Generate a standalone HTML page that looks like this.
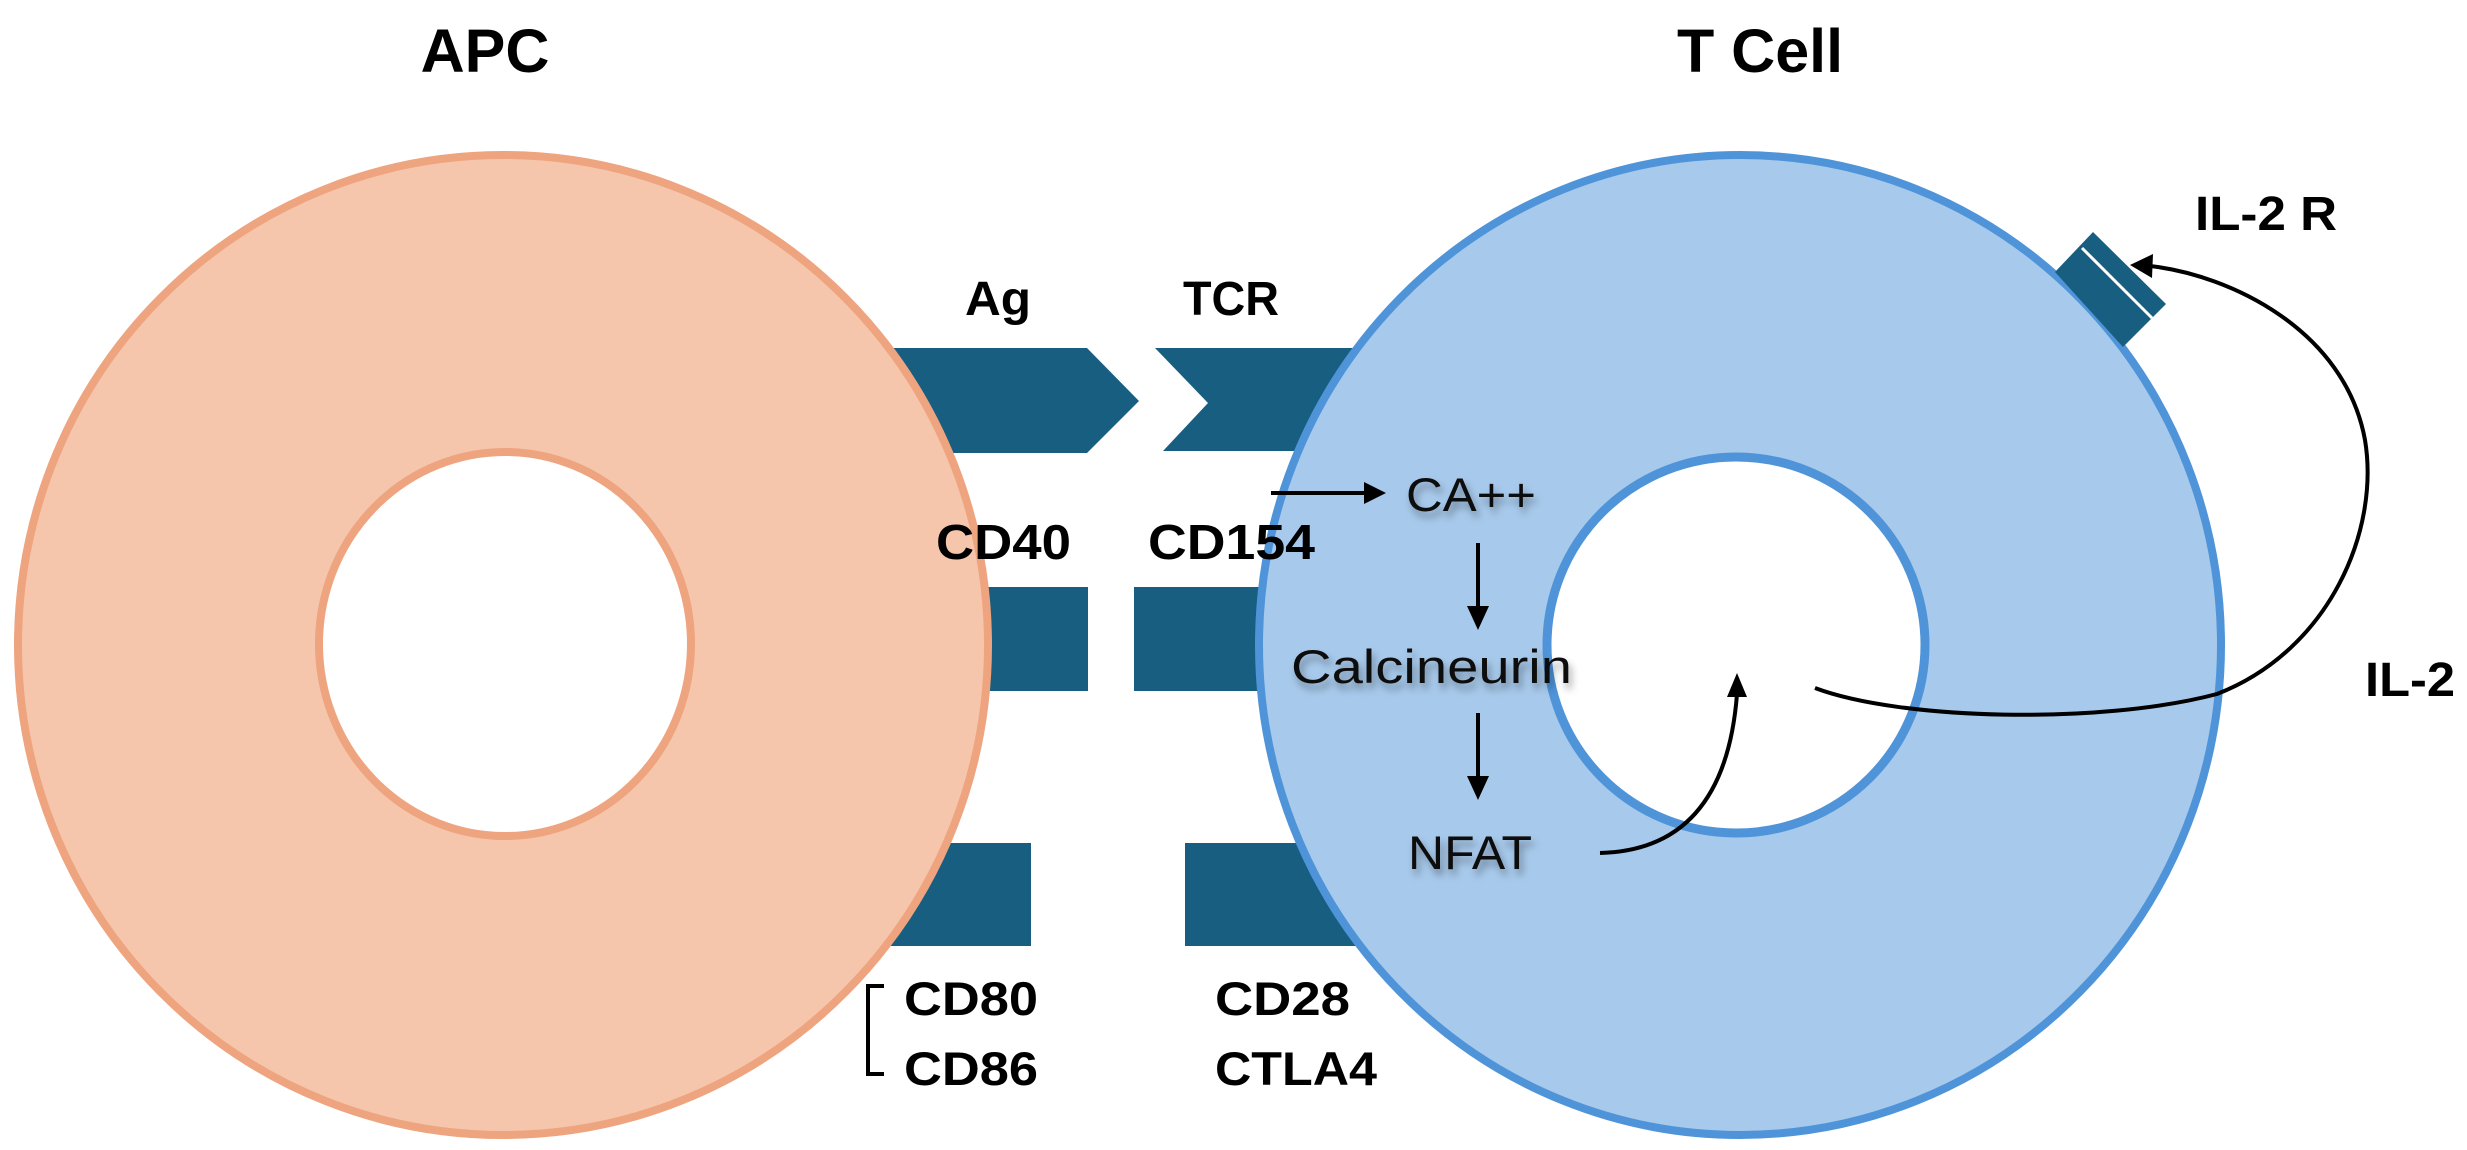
<!DOCTYPE html>
<html><head><meta charset="utf-8"><style>
html,body{margin:0;padding:0;background:#fff}
svg{display:block}
text{font-family:"Liberation Sans",Arial,sans-serif}
.b{font-weight:bold;fill:#000}
.r{fill:#111}
</style></head><body>
<svg width="2467" height="1150" viewBox="0 0 2467 1150" xmlns="http://www.w3.org/2000/svg">
<defs>
<marker id="ah" markerWidth="10" markerHeight="10" refX="8" refY="5" orient="auto" markerUnits="userSpaceOnUse" viewBox="0 0 10 10">
</marker>
<filter id="sh" x="-10%" y="-30%" width="130%" height="180%">
<feDropShadow dx="3" dy="6" stdDeviation="4" flood-color="#000" flood-opacity="0.35"/>
</filter>
</defs>
<rect width="2467" height="1150" fill="#fff"/>
<!-- bars (behind cells) -->
<g fill="#175e80">
<polygon points="850,348 1087,348 1139,401 1087,453 850,453"/>
<polygon points="1155,348 1420,348 1420,451 1163,451 1208,403"/>
<rect x="940" y="587" width="148" height="104"/>
<rect x="1134" y="587" width="200" height="104"/>
<rect x="840" y="843" width="191" height="103"/>
<rect x="1185" y="843" width="230" height="103"/>
</g>
<!-- APC -->
<ellipse cx="503" cy="645" rx="485" ry="490" fill="#f5c6ab" stroke="#eea47f" stroke-width="8"/>
<ellipse cx="505" cy="644" rx="186" ry="192" fill="#fff" stroke="#eea47f" stroke-width="8"/>
<!-- T cell -->
<ellipse cx="1740" cy="645" rx="481" ry="490" fill="#a7c9eb" stroke="#4f94d9" stroke-width="8"/>
<ellipse cx="1736" cy="645" rx="189" ry="188" fill="#fff" stroke="#4f94d9" stroke-width="9"/>
<!-- receptor -->
<polygon points="2055,272 2093,232 2166,304 2123,347" fill="#175e80"/>
<line x1="2082" y1="248" x2="2152" y2="318" stroke="#fff" stroke-width="3"/>
<!-- titles -->
<text class="b" x="485" y="72" font-size="61" text-anchor="middle">APC</text>
<text class="b" x="1760" y="72" font-size="61" text-anchor="middle">T Cell</text>
<!-- labels -->
<text class="b" x="965" y="315" font-size="48" textLength="66" lengthAdjust="spacingAndGlyphs">Ag</text>
<text class="b" x="1183" y="315" font-size="48" textLength="96" lengthAdjust="spacingAndGlyphs">TCR</text>
<text class="b" x="936" y="559" font-size="49" textLength="135" lengthAdjust="spacingAndGlyphs">CD40</text>
<text class="b" x="1148" y="559" font-size="49" textLength="167" lengthAdjust="spacingAndGlyphs">CD154</text>
<text class="b" x="904" y="1015" font-size="47" textLength="134" lengthAdjust="spacingAndGlyphs">CD80</text>
<text class="b" x="904" y="1085" font-size="47" textLength="134" lengthAdjust="spacingAndGlyphs">CD86</text>
<text class="b" x="1215" y="1015" font-size="47" textLength="135" lengthAdjust="spacingAndGlyphs">CD28</text>
<text class="b" x="1215" y="1085" font-size="47" textLength="162" lengthAdjust="spacingAndGlyphs">CTLA4</text>
<text class="b" x="2195" y="230" font-size="48" textLength="142" lengthAdjust="spacingAndGlyphs">IL-2 R</text>
<text class="b" x="2365" y="696" font-size="48" textLength="90" lengthAdjust="spacingAndGlyphs">IL-2</text>
<!-- bracket -->
<polyline points="884,986 868,986 868,1074 884,1074" fill="none" stroke="#000" stroke-width="4"/>
<!-- regular text -->
<g filter="url(#sh)">
<text class="r" x="1406" y="511" font-size="47" textLength="130" lengthAdjust="spacingAndGlyphs">CA++</text>
<text class="r" x="1291" y="683" font-size="47" textLength="281" lengthAdjust="spacingAndGlyphs">Calcineurin</text>
<text class="r" x="1408" y="869" font-size="47" textLength="124" lengthAdjust="spacingAndGlyphs">NFAT</text>
</g>
<!-- arrows -->
<g stroke="#000" stroke-width="4" fill="none">
<line x1="1271" y1="493" x2="1366" y2="493"/>
<line x1="1478" y1="543" x2="1478" y2="610"/>
<line x1="1478" y1="713" x2="1478" y2="780"/>
<path d="M1600,853 Q1725,850 1737,694"/>
<path d="M1815,688 C1900,720 2100,725 2217,694 C2330,650 2380,530 2365,440 C2345,330 2230,275 2150,266"/>
</g>
<g fill="#000">
<polygon points="1386,493 1364,482 1364,504"/>
<polygon points="1478,630 1467,606 1489,606"/>
<polygon points="1478,800 1467,776 1489,776"/>
<polygon points="1737,673 1727,697 1747,697"/>
<polygon points="2130,265 2153,254 2152,278"/>
</g>
</svg>
</body></html>
